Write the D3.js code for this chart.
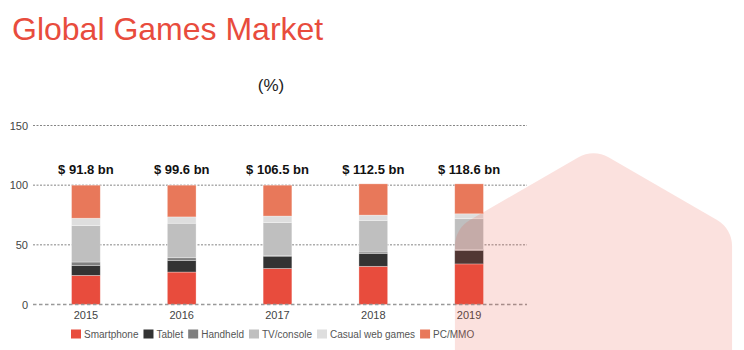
<!DOCTYPE html>
<html>
<head>
<meta charset="utf-8">
<script src="https://cdn.jsdelivr.net/npm/d3@7"></script>
<style>
  html, body { margin: 0; padding: 0; background: #fff; }
  svg { display: block; font-family: "Liberation Sans", Arial, sans-serif; }
</style>
</head>
<body>
<svg id="chart" width="744" height="350"></svg>
<script>
const years = ["2015", "2016", "2017", "2018", "2019"];
const totals = [91.8, 99.6, 106.5, 112.5, 118.6];
const seriesNames = ["Smartphone", "Tablet", "Handheld", "TV/console", "Casual web games", "PC/MMO"];
const smartphone = [24.4, 27.2, 30.2, 32.0, 34.0];
const tablet = [8.4, 9.8, 10.3, 10.6, 11.4];
const handheld = [2.8, 2.2, 0.7, 1.4, 0.8];
const tvConsole = [30.5, 28.9, 27.4, 26.5, 25.7];
const casualWeb = [6.2, 5.3, 5.5, 4.4, 4.1];
const pcMmo = [27.7, 26.6, 25.9, 26.2, 25.1];
const yTicks = [0, 50, 100, 150];
const colors = ["#e84c3d", "#333333", "#7f7f7f", "#bfbfbf", "#dedede", "#e8785a"];

const seriesValues = [smartphone, tablet, handheld, tvConsole, casualWeb, pcMmo];
const keys = seriesNames;
const table = years.map((yr, i) => {
  const row = { year: yr };
  keys.forEach((k, j) => row[k] = seriesValues[j][i]);
  return row;
});
const stacked = d3.stack().keys(keys)(table);

const svg = d3.select("#chart");

// Title
svg.append("text").attr("x", 12).attr("y", 40)
  .attr("fill", "#e84c3d").attr("font-size", "32px")
  .text("Global Games Market");

svg.append("text").attr("x", 271).attr("y", 90.5)
  .attr("text-anchor", "middle").attr("fill", "#222").attr("font-size", "17px")
  .text("(%)");

const x = d3.scaleBand().domain(years).range([38, 517]).paddingInner(0.7).paddingOuter(0.35);
const y = d3.scaleLinear().domain([0, 150]).range([304.5, 125.5]);

// gridlines
const grid = svg.append("g");
grid.selectAll("line").data(yTicks.filter(t => t !== 0)).join("line")
  .attr("x1", 33).attr("x2", 527)
  .attr("y1", d => y(d)).attr("y2", d => y(d))
  .attr("stroke", "#666").attr("stroke-width", 0.8).attr("stroke-dasharray", "2,1.5");

// y tick labels
svg.append("g").selectAll("text").data(yTicks).join("text")
  .attr("x", 28).attr("y", d => y(d) + 4)
  .attr("text-anchor", "end").attr("fill", "#444").attr("font-size", "11px")
  .text(d => d);

// bars
const barG = svg.append("g");
stacked.forEach((s, j) => {
  barG.append("g").selectAll("rect").data(s).join("rect")
    .attr("x", d => x(d.data.year))
    .attr("width", x.bandwidth())
    .attr("y", d => y(d[1]))
    .attr("height", d => y(d[0]) - y(d[1]))
    .attr("fill", colors[j])
    .attr("stroke", "rgba(255,255,255,0.45)").attr("stroke-width", 0.7);
});

// zero line
svg.append("line").attr("x1", 33).attr("x2", 527)
  .attr("y1", y(0)).attr("y2", y(0))
  .attr("stroke", "#999").attr("stroke-width", 1.4).attr("stroke-dasharray", "3.5,2.5");

// total labels
svg.append("g").selectAll("text").data(years).join("text")
  .attr("x", d => x(d) + x.bandwidth() / 2).attr("y", y(100) - 11.5)
  .attr("text-anchor", "middle").attr("font-weight", "bold").attr("font-size", "13px")
  .attr("fill", "#111")
  .text((d, i) => "$ " + totals[i] + " bn");

// x labels
svg.append("g").selectAll("text").data(years).join("text")
  .attr("x", d => x(d) + x.bandwidth() / 2).attr("y", 318.5)
  .attr("text-anchor", "middle").attr("fill", "#444").attr("font-size", "11px")
  .text(d => d);

// legend
const leg = svg.append("g");
let lx = 71;
keys.forEach((k, j) => {
  leg.append("rect").attr("x", lx).attr("y", 329.5).attr("width", 10).attr("height", 9).attr("fill", colors[j]);
  const t = leg.append("text").attr("x", lx + 13).attr("y", 338).attr("fill", "#555").attr("font-size", "10px").text(k);
  lx += 13 + t.node().getComputedTextLength() + 5;
});

// decorative rounded hexagon overlay
(function () {
  const cx = 593.5, cy = 308.6, R = 160, r = 30;
  const pts = d3.range(6).map(i => {
    const a = (-90 + 60 * i) * Math.PI / 180;
    return [cx + R * Math.cos(a), cy + R * Math.sin(a)];
  });
  const dcut = r / Math.tan(Math.PI / 3);
  let path = "";
  pts.forEach((p, i) => {
    const prev = pts[(i + 5) % 6], next = pts[(i + 1) % 6];
    const v1 = [prev[0] - p[0], prev[1] - p[1]], l1 = Math.hypot(...v1);
    const v2 = [next[0] - p[0], next[1] - p[1]], l2 = Math.hypot(...v2);
    const a = [p[0] + v1[0] / l1 * dcut, p[1] + v1[1] / l1 * dcut];
    const b = [p[0] + v2[0] / l2 * dcut, p[1] + v2[1] / l2 * dcut];
    path += (i === 0 ? "M" : "L") + a[0] + "," + a[1] + "A" + r + "," + r + " 0 0 1 " + b[0] + "," + b[1];
  });
  path += "Z";
  svg.append("path").attr("d", path).attr("fill", "#e84c3d").attr("fill-opacity", 0.17);
})();
</script>
</body>
</html>
